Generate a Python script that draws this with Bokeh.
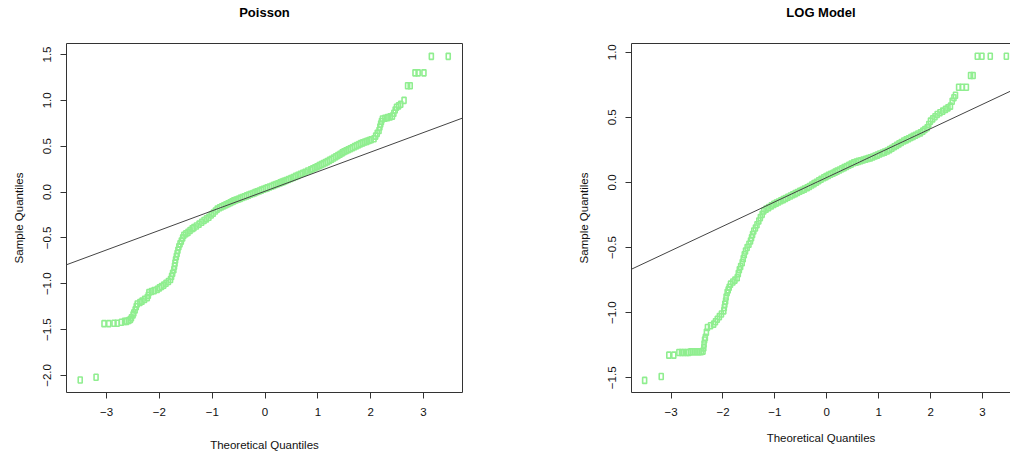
from bokeh.plotting import figure
from bokeh.models import Range1d, FixedTicker, LinearAxis, Slope, ColumnDataSource
from bokeh.layouts import row
from bokeh.embed import file_html
from bokeh.resources import INLINE

# ---------------- data ----------------
poisson_theoretical = [
    -3.50, -3.20, -3.05, -2.96, -2.86, -2.80, -2.72, -2.66, -2.62, -2.58, -2.55,
    -2.53, -2.50, -2.485, -2.46, -2.44, -2.42, -2.37, -2.33, -2.28, -2.23,
    -2.21, -2.20, -2.15, -2.10, -2.04, -2.00, -1.96, -1.917, -1.875, -1.83, -1.79,
    -1.77, -1.75, -1.727, -1.715, -1.705, -1.695, -1.68, -1.665, -1.65, -1.632,
    -1.61, -1.585, -1.56, -1.537, -1.50, -1.46, -1.42, -1.38, -1.348,
    -1.30, -1.25, -1.20, -1.155, -1.11, -1.063, -1.02, -0.98, -0.94, -0.904,
    -0.86, -0.82, -0.78, -0.74, -0.70, -0.66, -0.625, -0.59,
    -0.55, -0.51, -0.47, -0.43, -0.39, -0.35, -0.31, -0.273,
    -0.23, -0.19, -0.15, -0.11, -0.07, -0.03, 0.01, 0.044,
    0.085, 0.125, 0.165, 0.205, 0.245, 0.285, 0.32, 0.358,
    0.40, 0.445, 0.49, 0.535, 0.58, 0.625, 0.67, 0.715, 0.76, 0.81, 0.864,
    0.905, 0.945, 0.985, 1.025, 1.065, 1.105, 1.145, 1.181,
    1.22, 1.26, 1.30, 1.34, 1.38, 1.42, 1.46, 1.496,
    1.535, 1.575, 1.615, 1.655, 1.695, 1.735, 1.775, 1.812,
    1.85, 1.89, 1.93, 1.97, 2.01, 2.064, 2.095, 2.125, 2.159,
    2.175, 2.19, 2.205, 2.224, 2.27, 2.32, 2.37, 2.413,
    2.44, 2.465, 2.49, 2.53, 2.57, 2.633,
    2.70, 2.75, 2.84, 2.90, 3.01, 3.15, 3.47,
]
poisson_sample = [
    -2.05, -2.02, -1.435, -1.435, -1.43, -1.43, -1.42, -1.41, -1.41, -1.40, -1.39,
    -1.37, -1.34, -1.318, -1.285, -1.25, -1.221, -1.205, -1.19, -1.17, -1.151,
    -1.125, -1.097, -1.085, -1.075, -1.061, -1.045, -1.03, -1.015, -0.995, -0.975, -0.953,
    -0.92, -0.885, -0.846, -0.81, -0.775, -0.74, -0.704, -0.67, -0.635, -0.597,
    -0.565, -0.535, -0.50, -0.471, -0.455, -0.44, -0.42, -0.40, -0.388,
    -0.37, -0.35, -0.33, -0.31, -0.293, -0.275, -0.25, -0.23, -0.207, -0.186,
    -0.172, -0.16, -0.149, -0.138, -0.127, -0.116, -0.106, -0.096,
    -0.087, -0.078, -0.069, -0.06, -0.051, -0.042, -0.033, -0.024,
    -0.015, -0.006, 0.003, 0.012, 0.021, 0.03, 0.039, 0.046,
    0.055, 0.064, 0.073, 0.082, 0.091, 0.10, 0.108, 0.116,
    0.126, 0.137, 0.148, 0.159, 0.171, 0.182, 0.194, 0.205, 0.216, 0.229, 0.242,
    0.254, 0.265, 0.276, 0.288, 0.299, 0.31, 0.321, 0.332,
    0.345, 0.358, 0.372, 0.385, 0.399, 0.413, 0.427, 0.439,
    0.45, 0.461, 0.472, 0.483, 0.495, 0.506, 0.517, 0.528,
    0.536, 0.545, 0.553, 0.562, 0.571, 0.582, 0.61, 0.64, 0.671,
    0.71, 0.742, 0.77, 0.796, 0.805, 0.812, 0.82, 0.828,
    0.86, 0.895, 0.925, 0.94, 0.957, 1.00,
    1.16, 1.16, 1.30, 1.30, 1.30, 1.48, 1.48,
]
poisson_line_slope = 0.2133
poisson_line_intercept = 0.009

log_theoretical = [
    -3.51, -3.19, -3.044, -2.948, -2.85, -2.80, -2.755, -2.70, -2.66, -2.62, -2.58,
    -2.54, -2.50, -2.46, -2.42, -2.385,
    -2.37, -2.365, -2.355, -2.34, -2.32, -2.30, -2.24, -2.18, -2.145, -2.11,
    -2.07, -2.03, -1.985, -1.975, -1.965, -1.95, -1.94, -1.92,
    -1.90, -1.88, -1.855, -1.81, -1.77, -1.726,
    -1.705, -1.685, -1.66, -1.63, -1.61, -1.59, -1.566,
    -1.535, -1.50, -1.47, -1.45, -1.43, -1.407, -1.375, -1.345, -1.31,
    -1.28, -1.245, -1.214, -1.17, -1.12, -1.07, -1.02,
    -0.975, -0.93, -0.885, -0.84, -0.795, -0.75, -0.70,
    -0.655, -0.61, -0.565, -0.52, -0.475, -0.43, -0.378,
    -0.335, -0.29, -0.245, -0.20, -0.155, -0.11, -0.058,
    -0.015, 0.03, 0.075, 0.12, 0.16, 0.20,
    0.245, 0.29, 0.335, 0.38, 0.425, 0.47, 0.52,
    0.565, 0.61, 0.655, 0.70, 0.75, 0.795, 0.84,
    0.885, 0.93, 0.975, 1.02, 1.07, 1.115, 1.164,
    1.21, 1.255, 1.30, 1.345, 1.39, 1.435, 1.484,
    1.53, 1.575, 1.62, 1.665, 1.71, 1.755, 1.805,
    1.85, 1.89, 1.934, 1.965, 1.998,
    2.04, 2.085, 2.127, 2.18, 2.235, 2.287, 2.335, 2.383,
    2.416, 2.45, 2.48,
    2.54, 2.61, 2.69, 2.77, 2.82, 2.90, 2.99, 3.15, 3.46,
]
log_sample = [
    -1.52, -1.49, -1.326, -1.326, -1.306, -1.306, -1.306, -1.306, -1.306, -1.30, -1.30,
    -1.30, -1.30, -1.30, -1.30, -1.295,
    -1.27, -1.24, -1.21, -1.19, -1.15, -1.114, -1.10, -1.088, -1.07, -1.05,
    -1.03, -1.01, -0.986, -0.96, -0.935, -0.91, -0.88, -0.846,
    -0.825, -0.805, -0.781, -0.765, -0.75, -0.731,
    -0.70, -0.67, -0.645, -0.616, -0.585, -0.555, -0.526,
    -0.50, -0.475, -0.45, -0.425, -0.40, -0.373, -0.35, -0.325, -0.296,
    -0.27, -0.245, -0.219, -0.205, -0.193, -0.18, -0.168,
    -0.159, -0.15, -0.141, -0.132, -0.123, -0.114, -0.104,
    -0.095, -0.086, -0.077, -0.068, -0.06, -0.051, -0.041,
    -0.031, -0.02, -0.009, 0.002, 0.013, 0.024, 0.036,
    0.045, 0.054, 0.063, 0.071, 0.079, 0.087,
    0.096, 0.105, 0.114, 0.123, 0.132, 0.141, 0.151,
    0.156, 0.162, 0.167, 0.172, 0.178, 0.184, 0.189,
    0.196, 0.203, 0.21, 0.218, 0.226, 0.233, 0.241,
    0.252, 0.263, 0.274, 0.285, 0.296, 0.307, 0.318,
    0.327, 0.336, 0.345, 0.354, 0.363, 0.372, 0.381,
    0.394, 0.407, 0.42, 0.445, 0.471,
    0.488, 0.505, 0.522, 0.535, 0.548, 0.561, 0.573, 0.586,
    0.624, 0.65, 0.67,
    0.731, 0.731, 0.731, 0.821, 0.821, 0.969, 0.969, 0.969, 0.969,
]
log_line_slope = 0.1872
log_line_intercept = 0.0384

x_ticks = [-3, -2, -1, 0, 1, 2, 3]
x_tick_labels = ["\u22123", "\u22122", "\u22121", "0", "1", "2", "3"]
poisson_y_ticks = [-2.0, -1.5, -1.0, -0.5, 0.0, 0.5, 1.0, 1.5]
poisson_y_tick_labels = ["\u22122.0", "\u22121.5", "\u22121.0", "\u22120.5", "0.0", "0.5", "1.0", "1.5"]
log_y_ticks = [-1.5, -1.0, -0.5, 0.0, 0.5, 1.0]
log_y_tick_labels = ["\u22121.5", "\u22121.0", "\u22120.5", "0.0", "0.5", "1.0"]

FONT = "Liberation Sans"
GREEN = "#90EE90"
DARK = "#333333"


def style_axis(ax, ticks, labels, label_text, label_standoff):
    ax.ticker = FixedTicker(ticks=ticks)
    ax.major_label_overrides = {t: l for t, l in zip(ticks, labels)}
    ax.axis_label = label_text
    ax.axis_label_text_font = FONT
    ax.axis_label_text_font_size = "11.5px"
    ax.axis_label_text_font_style = "normal"
    ax.axis_label_text_color = "#111111"
    ax.axis_label_standoff = label_standoff
    ax.major_label_text_font = FONT
    ax.major_label_text_font_size = "11.5px"
    ax.major_label_text_color = "#111111"
    ax.major_label_standoff = 9
    ax.major_tick_out = 6
    ax.major_tick_in = 0
    ax.major_tick_line_color = DARK
    ax.minor_tick_line_color = None


def make_panel(title, xs, ys, xr, yr, width, height, mbl, mbr, mbt, mbb,
               yticks, ylabels, slope, intercept, full_box, xlab_standoff, title_gap):
    p = figure(width=width, height=height, x_range=Range1d(*xr), y_range=Range1d(*yr),
               output_backend="svg", toolbar_location=None,
               min_border_left=mbl, min_border_right=mbr,
               min_border_top=mbt, min_border_bottom=mbb)
    p.grid.visible = False
    p.background_fill_color = "white"
    p.border_fill_color = "white"

    style_axis(p.xaxis[0], x_ticks, x_tick_labels, "Theoretical Quantiles", xlab_standoff)
    style_axis(p.yaxis[0], yticks, ylabels, "Sample Quantiles", 16)
    p.yaxis[0].major_label_orientation = "vertical"

    # top axis without ticks: carries the panel title (and the top border line where needed)
    top = LinearAxis(ticker=FixedTicker(ticks=[]), axis_line_color=None,
                     major_tick_line_color=None, minor_tick_line_color=None,
                     major_label_text_font_size="0px", major_tick_out=0,
                     major_tick_in=0, major_label_standoff=0,
                     axis_label=title, axis_label_text_font=FONT,
                     axis_label_text_font_size="13px", axis_label_text_font_style="bold",
                     axis_label_text_color="#000000", axis_label_standoff=title_gap)
    if full_box:
        p.outline_line_color = DARK
        p.outline_line_width = 1
        p.xaxis.axis_line_color = None
        p.yaxis.axis_line_color = None
    else:
        p.outline_line_color = None
        p.xaxis.axis_line_color = DARK
        p.yaxis.axis_line_color = DARK
        top.axis_line_color = DARK
    p.add_layout(top, "above")

    src = ColumnDataSource(data=dict(x=xs, y=ys))
    p.rect(x="x", y="y", width=4, height=6, width_units="screen", height_units="screen",
           source=src, fill_color=None, line_color=GREEN, line_width=1.6)
    p.add_layout(Slope(gradient=slope, y_intercept=intercept, line_color="#444444", line_width=1))
    return p


left = make_panel("Poisson", poisson_theoretical, poisson_sample,
                  (-3.76, 3.74), (-2.186, 1.62), 573, 453, 66, 111, 43, 55,
                  poisson_y_ticks, poisson_y_tick_labels,
                  poisson_line_slope, poisson_line_intercept, True, 20, 24)
right = make_panel("LOG Model", log_theoretical, log_sample,
                   (-3.763, 3.54), (-1.613, 1.067), 437, 453, 58, 0, 42, 61,
                   log_y_ticks, log_y_tick_labels,
                   log_line_slope, log_line_intercept, False, 13, 24)

layout = row(left, right)
open("out.html", "w").write(file_html(layout, INLINE))
